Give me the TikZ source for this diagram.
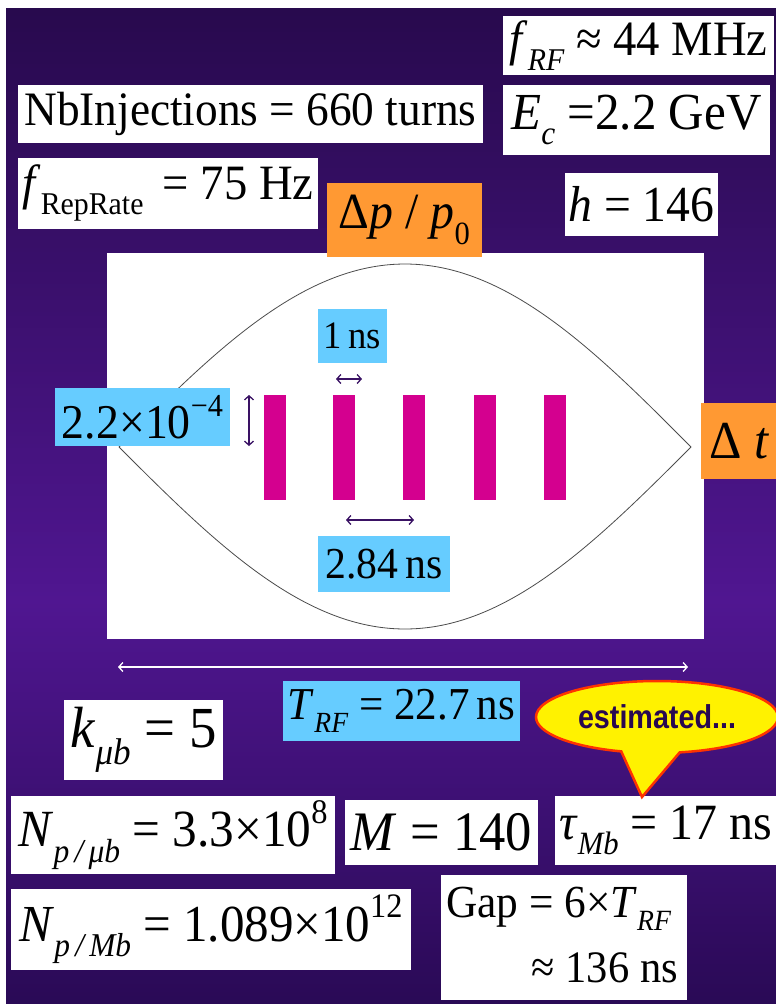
\documentclass[tikz,border=0pt]{standalone}
\usepackage{fontspec}
\setmainfont{Liberation Serif}
\newfontfamily\calloutfont{Liberation Sans}
\usepackage{graphicx}
\usetikzlibrary{arrows.meta,shapes.callouts,shapes.geometric}
\definecolor{bgtop}{RGB}{40,10,78}
\definecolor{bgmid}{RGB}{80,22,145}
\definecolor{bgbot}{RGB}{42,10,86}
\definecolor{skyb}{RGB}{102,204,255}
\definecolor{orng}{RGB}{255,153,51}
\definecolor{mag}{RGB}{212,0,143}
\definecolor{dimc}{RGB}{58,18,100}
\definecolor{calred}{RGB}{255,51,0}
\definecolor{caltext}{RGB}{40,8,80}
\newcommand{\fitw}[2]{\scalebox{1}[1.06]{\resizebox{#1pt}{!}{#2}}}
\newcommand{\dn}[1]{\raisebox{-0.3em}{\fontsize{6.4}{7}\selectfont #1}}
\newcommand{\hi}[1]{\raisebox{0.45em}{\fontsize{6.6}{7}\selectfont #1}}
\tikzset{
  wbox/.style={fill=white, inner sep=0pt},
  bbox/.style={fill=skyb, inner sep=0pt},
  obox/.style={fill=orng, inner sep=0pt},
  dimarrow/.style={draw=dimc, line width=1.3pt, {Straight Barb[length=4pt,width=9pt]}-{Straight Barb[length=4pt,width=9pt]}},
  wharrow/.style={draw=white, line width=1.3pt, {Straight Barb[length=4pt,width=9pt]}-{Straight Barb[length=4pt,width=9pt]}},
}
\begin{document}
\begin{tikzpicture}[x=1pt,y=-1pt]
\useasboundingbox (0,0) rectangle (776,1004);
\fill[white] (0,0) rectangle (776,1004);
% background gradient in strips
\foreach \i in {0,...,248}{
  \pgfmathsetmacro\yy{8+4*\i}
  \pgfmathtruncatemacro\rg{\yy<600 ? 1 : 0}
  \pgfmathtruncatemacro\pp{\yy<600 ? (\yy-8)/5.92 : (1004-\yy)/4.04}
  \ifnum\rg=1 \colorlet{stripc}{bgmid!\pp!bgtop}\else\colorlet{stripc}{bgmid!\pp!bgbot}\fi
  \fill[stripc] (6,\yy) rectangle (776,{\yy+4.6});
}

% top boxes
\node[wbox, minimum width=271, minimum height=59] (frf) at (638.5,45.5) {\fitw{258}{\textit{f}\dn{\textit{RF}} ≈ 44 MHz}};
\node[wbox, minimum width=267, minimum height=70] (ec) at (636.5,120) {\fitw{250}{\textit{E}\dn{\textit{c}} =2.2 GeV}};
\node[wbox, minimum width=465, minimum height=58] (nb) at (250.5,114) {\fitw{452}{NbInjections = 660 turns}};
\node[wbox, minimum width=300, minimum height=71] (frep) at (168,193) {\fitw{291}{\textit{f}\dn{RepRate}\, = 75 Hz}};
\node[wbox, minimum width=153, minimum height=63] (h) at (641.5,204) {\fitw{146}{\textit{h} = 146}};

% phase space
\fill[white] (107,253) rectangle (704,639);
\draw[black!70, line width=0.8pt] plot[domain=-286:286, samples=141, smooth] ({405+\x},{447-183*cos(\x/3.17778)});
\draw[black!70, line width=0.8pt] plot[domain=-286:286, samples=141, smooth] ({405+\x},{447+182*cos(\x/3.17778)});
\node[obox, minimum width=155, minimum height=74] (dp) at (404.5,220) {\fitw{131}{Δ\textit{p} / \textit{p}\dn{0}}};
\node[obox, anchor=west, minimum height=76, inner xsep=8pt] (dt) at (701,441) {\fitw{60}{Δ \textit{t}}\hspace{30pt}};

\foreach \bx in {264,333,403,474,544}
  \fill[mag] (\bx,395) rectangle ++(22,105);

\node[bbox, minimum width=175, minimum height=58] (dpval) at (142.5,417) {\fitw{161}{2.2×10\hi{−4}}};
\node[bbox, minimum width=69, minimum height=54] (ns1) at (352.5,336) {\fitw{57}{1\,ns}};
\node[bbox, minimum width=132, minimum height=56] (ns284) at (384,564) {\fitw{117}{2.84\,ns}};

\coordinate (va) at (249,395); \coordinate (vb) at (249,446);
\draw[dimarrow] (va) -- (vb);
\coordinate (ha) at (336,379); \coordinate (hb) at (362,379);
\draw[dimarrow] (ha) -- (hb);
\coordinate (sa) at (346,520); \coordinate (sb) at (414,520);
\draw[dimarrow] (sa) -- (sb);
\coordinate (ta) at (118,667); \coordinate (tb) at (688,667);
\draw[wharrow] (ta) -- (tb);

% lower boxes
\node[bbox, minimum width=237, minimum height=60] (trf) at (401.5,711) {\fitw{227}{\textit{T}\dn{\textit{RF}} = 22.7\,ns}};
\node[wbox, minimum width=159, minimum height=80] (k) at (143.5,740) {\fitw{146}{\textit{k}\dn{\textit{μb}} = 5}};
\node[wbox, minimum width=324, minimum height=78] (npmu) at (173,835) {\fitw{309}{\textit{N}\dn{\textit{p\,/\,μb}} = 3.3×10\hi{8}}};
\node[wbox, minimum width=193, minimum height=65] (m) at (441.5,832.5) {\fitw{181}{\textit{M} = 140}};
\node[wbox, anchor=west, minimum height=69, inner xsep=4pt] (tau) at (555,830.5) {\fitw{213}{\textit{τ}\dn{\textit{Mb}} = 17 ns}\hspace{6pt}};
\node[wbox, minimum width=400, minimum height=81] (npmb) at (211,929.5) {\fitw{383}{\textit{N}\dn{\textit{p\,/\,Mb}} = 1.089×10\hi{12}}};
\node[wbox, minimum width=246, minimum height=125] (gap) at (564,937.5) {};
\node[anchor=base west, inner sep=0pt] (gap1) at (446,917) {\fitw{225}{Gap = 6×\textit{T}\dn{\textit{RF}}}};
\node[anchor=base east, inner sep=0pt] (gap2) at (678,982) {\fitw{146}{≈ 136 ns}};

% callout
\node[ellipse callout, fill=yellow, draw=calred, line width=2.5pt,
      minimum width=242, minimum height=72, inner sep=0pt,
      callout absolute pointer={(642,797)}, callout pointer arc=28]
      (est) at (657,717) {\calloutfont\bfseries\color{caltext}\scalebox{1}[1.15]{\resizebox{158pt}{!}{estimated...}}};
\end{tikzpicture}
\end{document}
